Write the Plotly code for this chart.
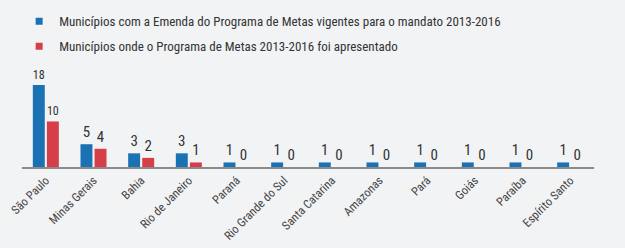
import plotly.graph_objects as go

categories = ["São Paulo", "Minas Gerais", "Bahia", "Rio de Janeiro", "Paraná",
              "Rio Grande do Sul", "Santa Catarina", "Amazonas", "Pará", "Goiás",
              "Paraíba", "Espírito Santo"]
emenda = [18, 5, 3, 3, 1, 1, 1, 1, 1, 1, 1, 1]
apresentado = [10, 4, 2, 1, 0, 0, 0, 0, 0, 0, 0, 0]
series_names = ["Municípios com a Emenda do Programa de Metas vigentes para o mandato 2013-2016",
                "Municípios onde o Programa de Metas 2013-2016 foi apresentado"]
colors = ["#1a72b5", "#d63f4a"]

FONT = "Roboto Condensed, Liberation Sans Narrow, Roboto, sans-serif"

fig = go.Figure()
for vals, name, col, grp in [(emenda, series_names[0], colors[0], "a"),
                             (apresentado, series_names[1], colors[1], "b")]:
    fig.add_trace(go.Bar(x=categories, y=vals, name=name, legendgroup=grp,
                         showlegend=False,
                         marker=dict(color=col, line=dict(width=0)),
                         text=vals, textposition="outside", cliponaxis=False,
                         textfont=dict(size=15, color="#333333", family=FONT)))
    # legend entry with small square symbol
    fig.add_trace(go.Scatter(x=[None], y=[None], mode="markers", name=name,
                             legendgroup=grp, showlegend=True,
                             marker=dict(symbol="square", size=7, color=col)))

fig.update_layout(
    width=625, height=248,
    paper_bgcolor="#f2f3f5", plot_bgcolor="#f2f3f5",
    margin=dict(l=22, r=31, t=8, b=81, autoexpand=False),
    barmode="group", bargap=0.41, bargroupgap=0.15,
    font=dict(family=FONT, color="#333333"),
    legend=dict(x=-0.005, y=1.01, xanchor="left", yanchor="top",
                orientation="v", font=dict(size=13, color="#333333", family=FONT),
                itemwidth=30, tracegroupgap=5, bgcolor="rgba(0,0,0,0)",
                traceorder="grouped"),
    showlegend=True,
)
fig.update_xaxes(showline=True, linecolor="#8a8a8a", linewidth=1.5, ticks="",
                 tickangle=-45, tickfont=dict(size=12, color="#444444", family=FONT),
                 showgrid=False, fixedrange=True, automargin=False)
fig.update_yaxes(visible=False, range=[0, 34.9], showgrid=False, zeroline=False,
                 automargin=False, fixedrange=True)

fig.write_html("out.html", config={"displayModeBar": False},
               post_script="document.body.style.margin='0';document.body.style.background='#f2f3f5';")
